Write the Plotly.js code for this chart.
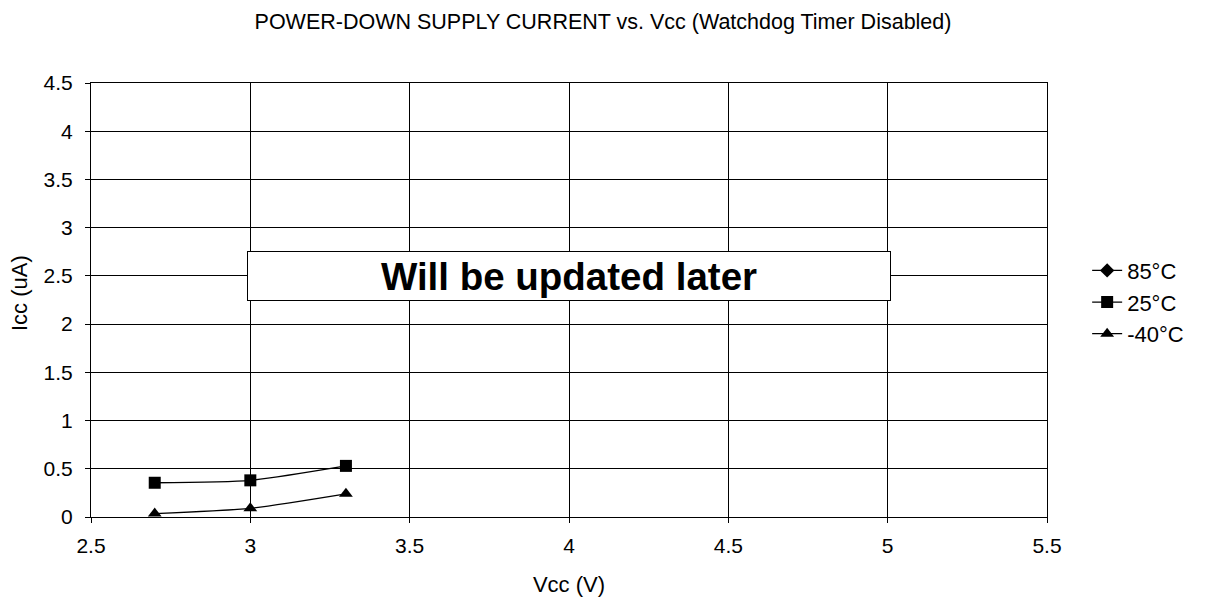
<!DOCTYPE html>
<html><head><meta charset="utf-8">
<script src="https://cdn.plot.ly/plotly-3.0.1.min.js"></script>
<style>body{margin:0;background:#fff}#c{width:1206px;height:601px}</style>
</head><body><div id="c"></div>
<script>
const vcc = [2.7, 3.0, 3.3];
const icc85 = [null, null, null];
const icc25 = [0.355, 0.38, 0.53];
const iccM40 = [0.035, 0.09, 0.24];
const seriesNames = ['85°C', '25°C', '-40°C'];
const xTicks = [2.5, 3, 3.5, 4, 4.5, 5, 5.5];
const yTicks = [0, 0.5, 1, 1.5, 2, 2.5, 3, 3.5, 4, 4.5];

const F = 'Liberation Sans, Arial, sans-serif';
const mk = (y, name, sym) => ({
  x: vcc, y: y, name: name, type: 'scatter', mode: 'lines+markers',
  line: {color: '#000', width: 1.3, shape: 'spline', smoothing: 0.6},
  marker: {symbol: sym, size: sym === 'diamond' ? 11 : 12, color: '#000'}
});
const data = [mk(icc85, seriesNames[0], 'diamond'), mk(icc25, seriesNames[1], 'square'), mk(iccM40, seriesNames[2], 'triangle-up')];
const axis = {
  showline: true, linecolor: '#000', linewidth: 1, mirror: true,
  showgrid: true, gridcolor: '#000', gridwidth: 1, zeroline: false,
  ticks: 'outside', ticklen: 5, tickcolor: '#000',
  tickfont: {family: F, size: 21, color: '#000'}
};
const layout = {
  width: 1206, height: 601,
  margin: {l: 91, r: 159, t: 83, b: 84},
  paper_bgcolor: '#fff', plot_bgcolor: '#fff',
  font: {family: F, color: '#000'},
  title: {text: 'POWER-DOWN SUPPLY CURRENT vs. Vcc (Watchdog Timer Disabled)', font: {family: F, size: 21.5, color: '#000'}, x: 0.5, xanchor: 'center', y: 0.965, yanchor: 'middle'},
  xaxis: Object.assign({}, axis, {range: [2.5, 5.5], tickvals: xTicks, ticktext: xTicks.map(String), ticklabelstandoff: 5,
    title: {text: 'Vcc (V)', font: {family: F, size: 22, color: '#000'}, standoff: 20}}),
  yaxis: Object.assign({}, axis, {range: [0, 4.5], tickvals: yTicks, ticktext: yTicks.map(String), ticklabelstandoff: 8}),
  legend: {x: 1.042, xanchor: 'left', y: 0.495, yanchor: 'middle', font: {family: F, size: 22, color: '#000'}, tracegroupgap: 0, itemwidth: 30},
  annotations: [{
    x: 4.0, y: 2.5, xref: 'x', yref: 'y', text: '<b>Will be updated later</b>', showarrow: false,
    font: {family: F, size: 38.5, color: '#000'}, bgcolor: '#fff', bordercolor: '#000', borderwidth: 1,
    width: 640, height: 46, align: 'center', valign: 'middle'
  }, {
    x: -0.0753, y: 0.516, xref: 'paper', yref: 'paper', xanchor: 'center', yanchor: 'middle',
    text: 'Icc (uA)', textangle: -90, showarrow: false, font: {family: F, size: 22, color: '#000'}
  }]
};
Plotly.newPlot('c', data, layout, {displayModeBar: false, staticPlot: true});
</script></body></html>
